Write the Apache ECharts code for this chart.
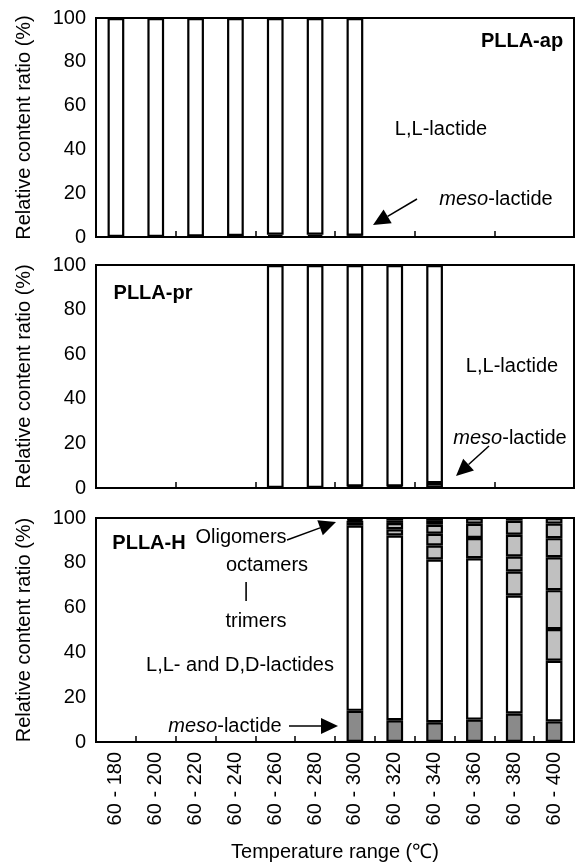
<!DOCTYPE html>
<html>
<head>
<meta charset="utf-8">
<script src="https://cdn.jsdelivr.net/npm/echarts@6/dist/echarts.min.js"></script>
<style>
  html, body { margin: 0; padding: 0; background: #fff; }
  #chart { width: 576px; height: 867px; }
</style>
</head>
<body>
<div id="chart"></div>
<script>
// Temperature ranges (x categories), shared by all three panels
const categories = ['60 - 180', '60 - 200', '60 - 220', '60 - 240', '60 - 260', '60 - 280',
                    '60 - 300', '60 - 320', '60 - 340', '60 - 360', '60 - 380', '60 - 400'];
const yTickValues = [0, 20, 40, 60, 80, 100];

// PLLA-ap: meso-lactide and L,L-lactide (%)
const apMeso = [0, 0, 0.3, 0.5, 1.0, 1.0, 0.6, null, null, null, null, null];
const apLL   = [100, 100, 99.7, 99.5, 99.0, 99.0, 99.4, null, null, null, null, null];

// PLLA-pr: meso-lactide and L,L-lactide (%)
const prMeso = [null, null, null, null, 0, 0, 0.7, 0.7, 2.2, null, null, null];
const prLL   = [null, null, null, null, 100, 100, 99.3, 99.3, 97.8, null, null, null];

// PLLA-H: meso-lactide, L,L-/D,D-lactides and oligomers, trimers -> octamers (%)
const hMeso     = [null, null, null, null, null, null, 13.9, 9.7, 8.8, 10.0, 12.7, 9.2];
const hLactides = [null, null, null, null, null, null, 82.7, 82.5, 72.7, 72.0, 52.7, 27.1];
const hTrimers  = [null, null, null, null, null, null, 1.2, 2.8, 6.2, 9.1, 10.7, 14.1];
const hTetramers= [null, null, null, null, null, null, 1.0, 2.8, 5.3, 6.3, 6.7, 17.4];
const hPentamers= [null, null, null, null, null, null, 0.7, 1.2, 4.0, 2.6, 9.7, 14.7];
const hHexamers = [null, null, null, null, null, null, 0.5, 1.0, 1.7, 0, 6.3, 8.5];
const hHeptamers= [null, null, null, null, null, null, 0, 0, 1.3, 0, 1.2, 6.5];
const hOctamers = [null, null, null, null, null, null, 0, 0, 0, 0, 0, 2.5];

const FONT = '"Liberation Sans", Arial, sans-serif';
const FS = 20;
const MESO_COLOR = '#8a8a8a';
const OLIGO_COLOR = '#c0c0c0';

const panels = [
  { top: 18, height: 219 },
  { top: 265, height: 223 },
  { top: 518, height: 224 }
];

const grids = panels.map(p => ({
  left: 96, right: 2, top: p.top, height: p.height,
  show: true, borderColor: '#000', borderWidth: 2, containLabel: false
}));

const xAxes = panels.map((p, i) => ({
  type: 'category', gridIndex: i, data: categories,
  axisLine: { lineStyle: { color: '#000', width: 2 } },
  axisTick: { show: true, inside: true, length: 6, lineStyle: { color: '#000', width: 1.5 } },
  axisLabel: i === 2 ? {
    show: true, rotate: 90, margin: 10, interval: 0,
    color: '#000', fontSize: FS, fontFamily: FONT
  } : { show: false },
  name: i === 2 ? 'Temperature range (\u2103)' : '',
  nameLocation: 'middle', nameGap: 100,
  nameTextStyle: { color: '#000', fontSize: FS, fontFamily: FONT }
}));

const yAxes = panels.map((p, i) => ({
  type: 'value', gridIndex: i, min: yTickValues[0], max: yTickValues[yTickValues.length - 1],
  interval: yTickValues[1] - yTickValues[0],
  splitLine: { show: false },
  axisLine: { show: true, lineStyle: { color: '#000', width: 2 } },
  axisTick: { show: false },
  axisLabel: { color: '#000', fontSize: FS, fontFamily: FONT, margin: 10 },
  name: 'Relative content ratio (%)',
  nameLocation: 'middle', nameGap: 62,
  nameTextStyle: { color: '#000', fontSize: FS, fontFamily: FONT }
}));

function bar(name, data, axisIndex, stack, color) {
  return {
    name, type: 'bar', data, stack,
    xAxisIndex: axisIndex, yAxisIndex: axisIndex,
    barWidth: '42%',
    itemStyle: { color, borderColor: '#000', borderWidth: 2.2 },
    emphasis: { disabled: true },
    animation: false
  };
}

const series = [
  bar('meso-lactide', apMeso, 0, 'ap', MESO_COLOR),
  bar('L,L-lactide', apLL, 0, 'ap', '#fff'),
  bar('meso-lactide', prMeso, 1, 'pr', MESO_COLOR),
  bar('L,L-lactide', prLL, 1, 'pr', '#fff'),
  bar('meso-lactide', hMeso, 2, 'h', MESO_COLOR),
  bar('L,L- and D,D-lactides', hLactides, 2, 'h', '#fff'),
  bar('trimers', hTrimers, 2, 'h', OLIGO_COLOR),
  bar('tetramers', hTetramers, 2, 'h', OLIGO_COLOR),
  bar('pentamers', hPentamers, 2, 'h', OLIGO_COLOR),
  bar('hexamers', hHexamers, 2, 'h', OLIGO_COLOR),
  bar('heptamers', hHeptamers, 2, 'h', OLIGO_COLOR),
  bar('octamers', hOctamers, 2, 'h', OLIGO_COLOR)
];

// Annotation helpers
function text(str, x, y, extra) {
  return {
    type: 'text', x, y, silent: true,
    style: Object.assign({
      text: str, fill: '#000', fontSize: FS, fontFamily: FONT,
      align: 'center', verticalAlign: 'middle'
    }, extra || {})
  };
}
function mesoText(x, y) {
  return text('{i|meso}-lactide', x, y, {
    rich: { i: { fontStyle: 'italic', fontSize: FS, fontFamily: FONT, fill: '#000' } }
  });
}
function arrow(x1, y1, x2, y2) {
  const dx = x2 - x1, dy = y2 - y1, L = Math.hypot(dx, dy);
  const ux = dx / L, uy = dy / L, hl = 17, hw = 8;
  const bx = x2 - ux * hl, by = y2 - uy * hl, px = -uy, py = ux;
  return [
    { type: 'line', silent: true, shape: { x1, y1, x2: bx, y2: by },
      style: { stroke: '#000', lineWidth: 1.5 } },
    { type: 'polygon', silent: true,
      shape: { points: [[x2, y2], [bx + px * hw, by + py * hw], [bx - px * hw, by - py * hw]] },
      style: { fill: '#000' } }
  ];
}

const graphics = [
  // PLLA-ap
  text('PLLA-ap', 522, 41, { fontWeight: 'bold' }),
  text('L,L-lactide', 441, 129),
  mesoText(496, 199),
  ...arrow(417, 199, 373, 225),
  // PLLA-pr
  text('PLLA-pr', 153, 293, { fontWeight: 'bold' }),
  text('L,L-lactide', 512, 366),
  mesoText(510, 438),
  ...arrow(489, 446, 456, 476),
  // PLLA-H
  text('PLLA-H', 149, 543, { fontWeight: 'bold' }),
  text('Oligomers', 241, 537),
  ...arrow(287, 540, 336, 522),
  text('octamers', 267, 565),
  text('|', 246, 591),
  text('trimers', 256, 621),
  text('L,L- and D,D-lactides', 240, 665),
  mesoText(225, 726),
  ...arrow(289, 726, 338, 726)
];

const chart = echarts.init(document.getElementById('chart'), null, { renderer: 'canvas' });
chart.setOption({
  animation: false,
  backgroundColor: '#fff',
  grid: grids,
  xAxis: xAxes,
  yAxis: yAxes,
  series,
  graphic: graphics
});
</script>
</body>
</html>
